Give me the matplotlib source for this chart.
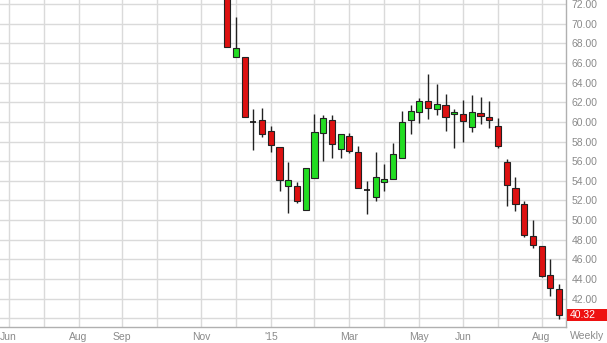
import matplotlib.pyplot as plt
from matplotlib.patches import Rectangle

# weekly candles, week 0 = late Nov 2014
weeks = list(range(39))
opens = [75.8, 66.58, 66.58, 59.97, 60.14, 59.12, 57.39, 53.49, 53.49, 51.05,
         54.27, 58.85, 60.14, 57.25, 58.58, 56.92, 53.08, 52.31, 53.83, 54.17,
         56.37, 60.20, 60.99, 62.14, 61.32, 61.73, 60.78, 60.81, 59.52, 60.88,
         60.47, 59.59, 55.93, 53.29, 51.63, 48.41, 47.39, 44.44, 42.94]
highs = [76.0, 70.65, 66.60, 61.29, 61.39, 59.60, 57.40, 55.96, 53.83, 55.35,
         60.78, 60.71, 60.71, 58.80, 58.85, 57.56, 53.93, 56.95, 55.73, 57.83,
         61.15, 61.73, 62.41, 64.85, 63.86, 62.85, 61.29, 62.24, 62.75, 62.51,
         62.17, 60.38, 56.20, 54.37, 51.97, 50.03, 47.40, 46.03, 43.53]
lows = [67.60, 66.58, 60.50, 57.15, 58.50, 56.98, 52.91, 50.71, 51.73, 51.05,
        54.27, 56.06, 56.37, 56.30, 56.81, 53.29, 50.61, 51.90, 53.01, 54.17,
        56.37, 58.78, 59.93, 60.30, 60.71, 59.08, 57.33, 57.90, 59.01, 59.77,
        59.42, 57.30, 51.39, 50.95, 48.24, 47.15, 44.20, 42.23, 39.93]
closes = [67.66, 67.49, 60.54, 59.97, 58.78, 57.66, 54.03, 54.03, 51.90, 55.35,
          58.92, 60.38, 57.73, 58.78, 57.02, 53.29, 53.08, 54.37, 54.17, 56.72,
          60.03, 61.15, 62.14, 61.45, 61.80, 60.54, 61.05, 60.10, 61.05, 60.61,
          60.20, 57.56, 53.59, 51.63, 48.51, 47.49, 44.34, 43.08, 40.32]

# first week of each month (week index) and its label
month_ticks = [-25, -21, -17, -12, -8, -3, 1, 5, 10, 14, 18, 22, 27, 31, 36]
month_labels = ['Jun', '', 'Aug', 'Sep', '', 'Nov', '', "'15", '', 'Mar', '',
                'May', 'Jun', '', 'Aug']
price_ticks = list(range(40, 73, 2))

UP = '#22dd22'
DOWN = '#dd1111'
GRID = '#dadada'
TXT = '#8a8a8a'

plt.rcParams['font.family'] = ['Liberation Sans', 'DejaVu Sans']
fig = plt.figure(figsize=(6.07, 3.43), dpi=100)
ax = fig.add_axes([0, 1 - 326.7 / 343, 565.7 / 607, 326.7 / 343])

# wicks
ax.vlines(weeks, lows, highs, color='#222222', lw=1, zorder=2)

# bodies
w = 0.7
for x, o, h, l, c in zip(weeks, opens, highs, lows, closes):
    if abs(o - c) < 0.05:
        ax.hlines(c, x - w / 2, x + w / 2, color='#111111', lw=1.2, zorder=3)
        continue
    col = UP if c > o else DOWN
    ax.add_patch(Rectangle((x - w / 2, min(o, c)), w, abs(c - o),
                           facecolor=col, edgecolor='#222222', lw=0.8, zorder=3))

ax.set_xlim(-25.99, 38.75)
ax.set_ylim(39.14, 72.41)

ax.set_xticks(month_ticks)
ax.set_xticklabels(month_labels)
ax.set_yticks(price_ticks)
ax.set_yticklabels([''] + [f'{p:.2f}' for p in price_ticks[1:]])
ax.yaxis.tick_right()
ax.grid(True, color=GRID, lw=1)
ax.set_axisbelow(True)
ax.tick_params(axis='both', length=0, labelsize=7.5, labelcolor=TXT)
ax.tick_params(axis='y', pad=4)
ax.tick_params(axis='x', pad=4)

for s in ('left', 'top'):
    ax.spines[s].set_visible(False)
for s in ('right', 'bottom'):
    ax.spines[s].set_color('#b0b0b0')
    ax.spines[s].set_linewidth(1)

# last price box
ytr = ax.get_yaxis_transform()
ax.add_patch(Rectangle((1.002, closes[-1] - 0.6), 0.08, 1.2, transform=ytr,
                       facecolor='#ee1111', edgecolor='none', clip_on=False,
                       zorder=5))
ax.text(1.008, closes[-1], f'{closes[-1]:.2f}', transform=ytr,
        ha='left', va='center', fontsize=7.5, color='white', clip_on=False,
        zorder=6)

fig.text(587 / 607, 1 - 336 / 343, 'Weekly', ha='center', va='center',
         fontsize=7.5, color=TXT)

fig.savefig('out.png', dpi=100)
